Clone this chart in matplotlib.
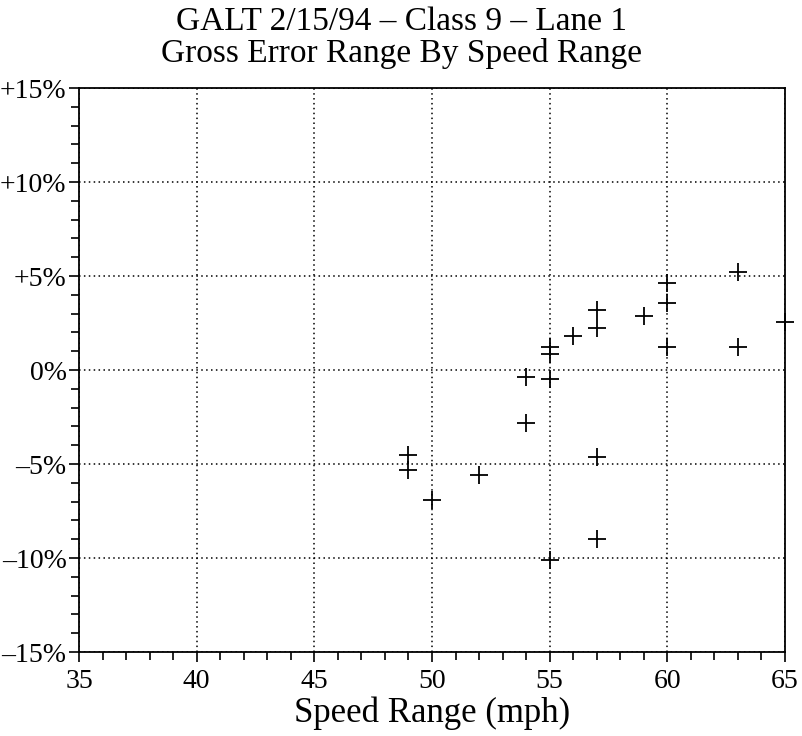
import matplotlib
matplotlib.use("Agg")
import matplotlib.pyplot as plt
from matplotlib.ticker import MultipleLocator, FuncFormatter

# speed (mph) and gross error (%) for each weighed vehicle
speed = [49, 49, 50, 52, 54, 54, 55, 55, 55, 55, 56,
         57, 57, 57, 57, 59, 60, 60, 60, 63, 63, 65]
gross_error = [-4.5, -5.3, -6.9, -5.6, -0.35, -2.8, 1.25, 0.85, -0.5, -10.1, 1.8,
               3.2, 2.25, -4.6, -9.0, 2.9, 4.65, 3.55, 1.2, 5.2, 1.2, 2.55]

x_ticks = [35, 40, 45, 50, 55, 60, 65]
y_ticks = [-15, -10, -5, 0, 5, 10, 15]
title_lines = ["GALT 2/15/94 \u2013 Class 9 \u2013 Lane 1",
               "Gross Error Range By Speed Range"]

plt.rcParams['font.family'] = ['Liberation Serif', 'DejaVu Serif']

fig = plt.figure(figsize=(8.03, 7.36), dpi=100)
ax = fig.add_axes([0.0984, 0.1141, 0.8792, 0.7663])

ax.plot(speed, gross_error, linestyle='none', marker='+', color='black',
        markersize=13, markeredgewidth=1.3, clip_on=False, zorder=3)

ax.set_xlim(35, 65)
ax.set_ylim(-15, 15)
ax.set_xticks(x_ticks)
ax.set_yticks(y_ticks)
ax.xaxis.set_minor_locator(MultipleLocator(1))
ax.yaxis.set_minor_locator(MultipleLocator(1))


def pct(v, pos):
    if v > 0:
        return '+%d%%' % v
    if v < 0:
        return '\u2013%d%%' % abs(v)
    return '0%'


ax.yaxis.set_major_formatter(FuncFormatter(pct))
ax.tick_params(which='both', direction='out', color='black', width=1.2)
ax.tick_params(which='major', length=7, labelsize=20, pad=2)
ax.tick_params(axis='x', which='major', pad=5)
ax.tick_params(which='minor', length=6)

ax.grid(True, which='major', color='black', linestyle=(0, (1, 2.2)), linewidth=1.1)
for s in ax.spines.values():
    s.set_linewidth(1.3)

ax.set_xlabel('Speed Range (mph)', fontsize=25, labelpad=2)
fig.text(0.5, 0.970, title_lines[0], ha='center', va='center', fontsize=24)
fig.text(0.5, 0.927, title_lines[1], ha='center', va='center', fontsize=24)

fig.savefig('out.png', dpi=100)
